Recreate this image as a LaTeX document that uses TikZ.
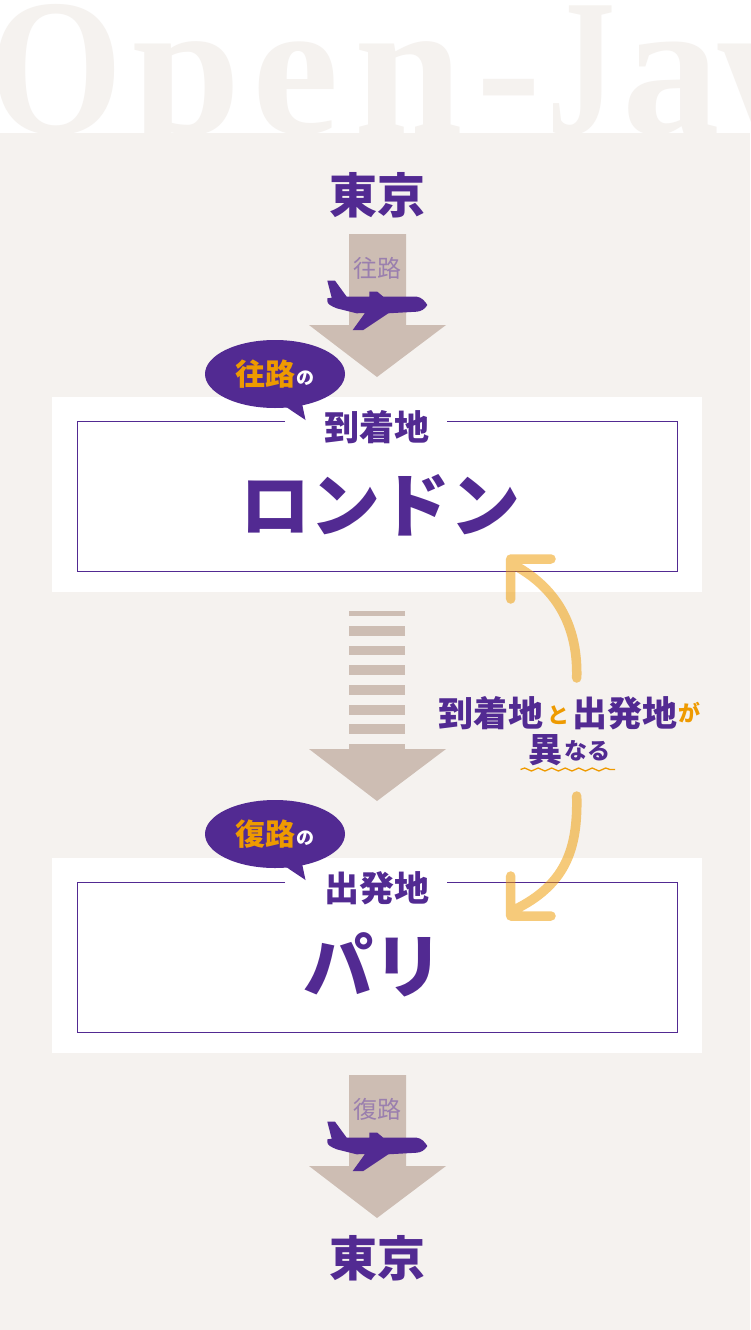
\documentclass[tikz,border=0pt]{standalone}
\usepackage{fontspec}
\usetikzlibrary{decorations.pathmorphing}
\newfontfamily\jp{Noto Sans CJK JP}
\newfontfamily\lat{Liberation Serif}
\definecolor{bgc}{HTML}{F5F2EF}
\definecolor{pur}{HTML}{522A92}
\definecolor{tanc}{HTML}{CDBDB3}
\definecolor{org}{HTML}{EE9A00}
\definecolor{lpur}{HTML}{9A7FAE}
\tikzset{
  x=1pt,y=-1pt,
  lbl/.style={inner sep=0pt,font=\jp\bfseries,text=pur},
  city/.style={lbl,font=\jp\bfseries\fontsize{48}{48}\selectfont},
  big/.style={lbl,font=\jp\bfseries\fontsize{70}{70}\selectfont},
  captext/.style={lbl,font=\jp\bfseries\fontsize{35}{35}\selectfont},
  leg/.style={inner sep=0pt,text=lpur,font=\jp\fontsize{24}{24}\selectfont},
  panel/.style={fill=white,draw=none},
  frame/.style={draw=pur,line width=1pt,fill=none},
  bubble/.style={fill=pur,draw=none},
  ar/.style={fill=tanc,draw=none},
  swing/.style={draw=org,opacity=.52,line width=9.5pt,line cap=round,line join=round},
  bubmain/.style={inner sep=0pt,font=\jp\bfseries\fontsize{30}{30}\selectfont,text=org},
  bubno/.style={inner sep=0pt,font=\jp\bfseries\fontsize{18}{18}\selectfont,text=white},
}
\newcommand{\plane}[1]{\fill[pur,shift={(0,#1)}] (327.3,280.7) -- (335,280.7) -- (346.7,296.7) -- (369.3,296.7) -- (369.3,291.7) -- (377.3,291.7) -- (383.3,296.7) -- (416.7,296.7) .. controls (421,297) and (425,301) .. (427.3,305) .. controls (425,309) and (421,311.5) .. (416.7,311.7) -- (388.3,313.3) -- (363.3,330) -- (352.7,330) -- (365,313) -- (356.7,313.3) -- (336.7,308.3) .. controls (331,306) and (327.3,304) .. (327.3,301) -- (327.3,298.3) -- (331.7,297.7) -- cycle;}
\newcommand{\bigarrow}[3]{\fill[ar] (349,#1) -- (406,#1) -- (406,#2) -- (446,#2) -- (377,#3) -- (309,#2) -- (349,#2) -- cycle;}
\begin{document}
\begin{tikzpicture}
\useasboundingbox (0,0) rectangle (750,1330);
\fill[white] (0,0) rectangle (750,1330);
\begin{scope}
\clip (0,0) rectangle (750,134);
\node[anchor=base west,inner sep=0pt,text=bgc,font=\lat\bfseries\fontsize{195}{195}\selectfont] (title) at (-11,133) {\scalebox{.88}[1]{O}\kern10pt p\kern11pt e\kern15.6pt n\kern14pt -\kern5.6pt \scalebox{.7}[1]{J}\kern7pt a\kern-2.5pt w};
\end{scope}
\fill[bgc] (0,133) rectangle (750,1330);
% arrows
\bigarrow{234}{325}{377}
\bigarrow{1075}{1166}{1218}
\foreach \a/\b in {611/616,626/636,645.7/655,665/675,685/695,704.7/714.5,724/734}
  \fill[ar] (349,\a) rectangle (405,\b);
\fill[ar] (349,744) rectangle (405,749);
\fill[ar] (309,749) -- (446,749) -- (377,801) -- cycle;
\node[leg] (legA) at (377,268) {往路};
\node[leg] (legB) at (377,1109.5) {復路};
\plane{0}
\plane{841}
% panels
\fill[panel] (52,397) rectangle (702,592);
\fill[panel] (52,858) rectangle (702,1053);
\draw[frame] (285,421.5) -- (77.5,421.5) -- (77.5,571.5) -- (677.5,571.5) -- (677.5,421.5) -- (447,421.5);
\draw[frame] (285,882.5) -- (77.5,882.5) -- (77.5,1032.5) -- (677.5,1032.5) -- (677.5,882.5) -- (447,882.5);
\node[captext] (capA) at (377,427) {到着地};
\node[captext] (capB) at (377,888) {出発地};
\node[big] (london) at (380,505) {ロンドン};
\node[big] (paris) at (373,965) {パリ};
% bubbles
\foreach \d in {0,460}{
  \fill[bubble] (275,374+\d) ellipse [x radius=70, y radius=34];
  \fill[bubble] (281.7,404+\d) -- (301.7,402+\d) -- (305.5,420+\d) -- cycle;
}
\node[bubmain] (bubA) at (265,374) {往路};
\node[bubno] (noA) at (305,378) {の};
\node[bubmain] (bubB) at (265,834) {復路};
\node[bubno] (noB) at (305,838) {の};
% cities
\node[city] (tokyoA) at (377,195) {東京};
\node[city] (tokyoB) at (377,1258) {東京};
% swing arrows
\draw[swing] (576.7,678) .. controls (578,630) and (560,590) .. (514,565) (551,559) -- (510.7,559) -- (510.7,599);
\draw[swing] (576.7,796) .. controls (578,850) and (565,885) .. (514,910) (510.7,876) -- (510.7,916) -- (551,916);
% note
\node[captext] (n1) at (491,713) {到着地};
\node[lbl,font=\jp\bfseries\fontsize{22}{22}\selectfont,text=org] (n2) at (558,715) {と};
\node[captext] (n3) at (624.5,713) {出発地};
\node[lbl,font=\jp\bfseries\fontsize{22}{22}\selectfont,text=org] (n4) at (689,713) {が};
\node[lbl,font=\jp\bfseries\fontsize{34}{34}\selectfont] (n5) at (545,750) {異};
\node[lbl,font=\jp\bfseries\fontsize{23}{23}\selectfont] (n6) at (587,751) {なる};
\draw[org,line width=1.3pt,decorate,decoration={snake,amplitude=1.5pt,segment length=13.5pt}] (520.5,769.5) -- (615,769.5);
\end{tikzpicture}
\end{document}
